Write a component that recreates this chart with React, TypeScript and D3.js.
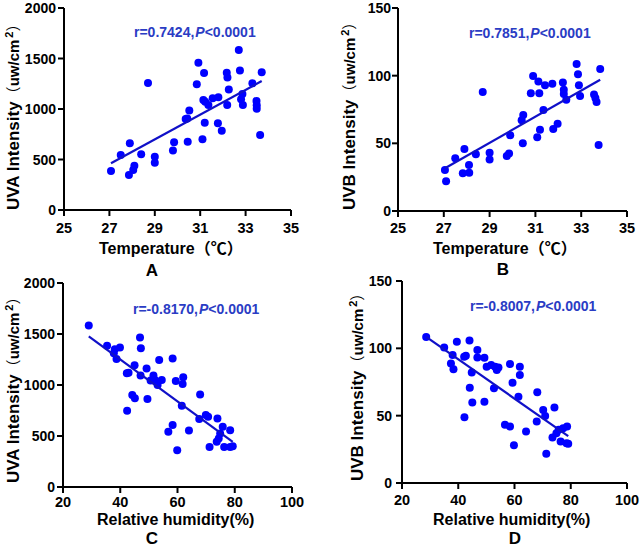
import React from "react";
import * as d3 from "d3";

// ---------- DATA ----------
const tempTicks = [25, 27, 29, 31, 33, 35];
const humTicks = [20, 40, 60, 80, 100];
const uvaTicks = [0, 500, 1000, 1500, 2000];
const uvbTicks = [0, 50, 100, 150];

// Panel A: temperature vs UVA
const tempA = [27.07, 27.5, 27.9, 27.86, 28.05, 28.1, 28.4, 28.7, 29.0, 29.0, 29.8, 29.85, 30.45, 30.36, 30.43, 30.52, 30.85, 30.92, 31.1, 31.17, 31.2, 31.14, 31.22, 31.36, 31.55, 31.8, 31.78, 31.95, 32.17, 32.2, 32.19, 32.26, 32.7, 32.75, 32.8, 32.86, 32.88, 33.3, 33.71, 33.48, 33.49, 33.49, 33.64];
const uvaA = [386, 545, 660, 347, 396, 439, 551, 1258, 528, 468, 590, 672, 676, 900, 905, 985, 1244, 1458, 700, 1356, 864, 1089, 1072, 1040, 1106, 1116, 858, 785, 1360, 1313, 1040, 1192, 1584, 1381, 1096, 1148, 1040, 1254, 1363, 1079, 1037, 1003, 743];

// Panel B: temperature vs UVB
const tempB = [27.05, 27.1, 27.5, 27.9, 27.83, 28.1, 28.11, 28.4, 28.7, 29.0, 29.0, 29.75, 29.85, 29.9, 30.45, 30.4, 30.47, 30.8, 30.9, 31.08, 31.13, 31.17, 31.2, 31.35, 31.42, 31.74, 31.78, 31.97, 32.2, 32.24, 32.24, 32.35, 32.8, 32.86, 32.9, 32.95, 33.83, 33.56, 33.62, 33.67, 33.76];
const uvbB = [30.3, 22, 39, 45.8, 27.9, 34, 28.3, 41.9, 88, 43, 38, 40.6, 42.4, 56, 50, 67, 71, 87, 99.8, 54.5, 95.6, 87, 60, 74.6, 93, 94, 60.6, 64.4, 95, 89.6, 86.4, 82.2, 108.6, 101, 93, 85, 105, 86, 83.5, 80.5, 48.8];

// Panel C: relative humidity vs UVA
const humC = [29, 35.4, 38.1, 39.9, 37.75, 38.7, 42.3, 42.9, 45, 46.9, 47.2, 47.1, 44.2, 45.1, 42.4, 49.2, 49.5, 51.6, 50.6, 52.1, 53.05, 53.6, 54.5, 58.3, 59.4, 62, 61.8, 61.5, 58.3, 56.8, 59.9, 64, 67.9, 67.6, 69.9, 70.7, 71.2, 73.95, 75.8, 74.9, 73.7, 74.4, 76.3, 78.4, 79.3, 78.4];
const uvaC = [1584, 1384, 1351, 1367, 1312, 1256, 1115, 1121, 1193, 1466, 1361, 1092, 902, 869, 748, 1161, 862, 1092, 1043, 1049, 1000, 1246, 1049, 1259, 1039, 1075, 1010, 797, 607, 541, 361, 554, 908, 666, 705, 689, 393, 672, 590, 525, 443, 475, 393, 557, 400, 393];

// Panel D: relative humidity vs UVB
const humD = [28.6, 35, 39.5, 44, 38, 37.4, 38.3, 42.1, 42.7, 44.8, 44.1, 45, 42.2, 46.8, 46.8, 49.3, 50.1, 51.7, 53.1, 53.7, 54.3, 52.7, 49.3, 58.4, 59.3, 61.9, 61.9, 61.4, 56.6, 58.4, 59.8, 64.1, 68.1, 67.9, 70.2, 70.9, 71.3, 74.2, 73.5, 74.9, 75.7, 76.4, 78.7, 79.1, 77.3, 78.5];
const uvbD = [108.5, 100.6, 104.8, 105.8, 95, 88.8, 84.4, 93.7, 94.5, 82.1, 70.8, 59.7, 48.8, 98.7, 93.2, 93, 86.3, 87.6, 86.3, 83.9, 85.8, 70.3, 60.4, 88.3, 74.5, 80.2, 86.3, 64.1, 43.2, 41.9, 28.1, 38.2, 67.3, 45.6, 54.3, 49.8, 21.7, 56, 33.8, 37, 39.5, 30.8, 41.9, 29.1, 40.7, 29.6];

const statsA = { r: "r=0.7424,", p: "<0.0001" };
const statsB = { r: "r=0.7851,", p: "<0.0001" };
const statsC = { r: "r=-0.8170,", p: "<0.0001" };
const statsD = { r: "r=-0.8007,", p: "<0.0001" };

// ---------- STYLE ----------
const FONT = "'Liberation Sans', Arial, 'Noto Sans CJK SC', sans-serif";
const CJK = "'Noto Sans CJK SC', 'Liberation Sans', sans-serif";
const DOT = "#0000ff";
const LINE = "#1010c8";
const TXT = "#2a3cc4";

type PanelProps = {
  xs: number[];
  ys: number[];
  xDomain: [number, number];
  yDomain: [number, number];
  xRange: [number, number];
  yRange: [number, number];
  xTicks: number[];
  yTicks: number[];
  xTickBase: number;
  yLabelGap: number;
  xTitle: string;
  xTitleX: number;
  xTitleY: number;
  yTitleMain: string;
  yTitleX: number;
  yTitleY: number;
  stats: { r: string; p: string };
  statX: number;
  statY: number;
  letter: string;
  letterX: number;
  letterY: number;
};

function fit(xs: number[], ys: number[]) {
  const mx = d3.mean(xs) as number;
  const my = d3.mean(ys) as number;
  let sxy = 0, sxx = 0;
  xs.forEach((x, i) => {
    sxy += (x - mx) * (ys[i] - my);
    sxx += (x - mx) * (x - mx);
  });
  const b = sxy / sxx;
  return { a: my - b * mx, b };
}

function Panel(p: PanelProps) {
  const x = d3.scaleLinear().domain(p.xDomain).range(p.xRange);
  const y = d3.scaleLinear().domain(p.yDomain).range(p.yRange);
  const { a, b } = fit(p.xs, p.ys);
  const [x0, x1] = d3.extent(p.xs) as [number, number];
  const line = d3.line<number>().x((v) => x(v)).y((v) => y(a + b * v));
  const ax = p.xRange[0];
  const by = p.yRange[0];
  return (
    <g fontFamily={FONT}>
      <line x1={ax} x2={ax} y1={p.yRange[1]} y2={by} stroke="#000" strokeWidth={2} />
      <line x1={ax - 1} x2={p.xRange[1]} y1={by} y2={by} stroke="#000" strokeWidth={2} />
      {p.yTicks.map((t) => (
        <g key={"y" + t}>
          <line x1={ax - 6} x2={ax} y1={y(t)} y2={y(t)} stroke="#000" strokeWidth={2} />
          <text x={ax - p.yLabelGap} y={y(t)} dy="0.36em" textAnchor="end" fontSize={14} fontWeight="bold">
            {t}
          </text>
        </g>
      ))}
      {p.xTicks.map((t) => (
        <g key={"x" + t}>
          <line x1={x(t)} x2={x(t)} y1={by} y2={by + 6} stroke="#000" strokeWidth={2} />
          <text x={x(t)} y={p.xTickBase} textAnchor="middle" fontSize={14.5} fontWeight="bold">
            {t}
          </text>
        </g>
      ))}
      {p.xs.map((v, i) => (
        <circle key={i} cx={x(v)} cy={y(p.ys[i])} r={4} fill={DOT} />
      ))}
      <path d={line([x0, x1]) as string} stroke={LINE} strokeWidth={2.2} fill="none" />
      <text x={p.statX} y={p.statY} fill={TXT} fontSize={14} fontWeight="bold">
        {p.stats.r}
        <tspan fontStyle="italic" dx={1}>P</tspan>
        {p.stats.p}
      </text>
      <text x={p.xTitleX} y={p.xTitleY} fontSize={16} fontWeight="bold">
        {p.xTitle}
      </text>
      <text
        transform={`translate(${p.yTitleX},${p.yTitleY}) rotate(-90)`}
        fontSize={17}
        fontWeight="bold"
      >
        {p.yTitleMain}
        <tspan fontFamily={CJK} fontWeight="normal" fontSize={15}>（</tspan>
        <tspan fontSize={15}>uw/cm</tspan>
        <tspan dx={2} dy={-6} fontSize={11}>2</tspan>
        <tspan dy={6} fontFamily={CJK} fontWeight="normal" fontSize={15}>）</tspan>
      </text>
      <text x={p.letterX} y={p.letterY} textAnchor="middle" fontSize={17} fontWeight="bold">
        {p.letter}
      </text>
    </g>
  );
}

export default function App() {
  return (
    <svg width={642} height={548} style={{ position: "absolute", left: 0, top: 0, background: "#fff" }}>
      <rect width={642} height={548} fill="#fff" />
      <Panel
        xs={tempA} ys={uvaA}
        xDomain={[25, 35]} yDomain={[0, 2000]}
        xRange={[64, 291]} yRange={[210, 8]}
        xTicks={tempTicks} yTicks={uvaTicks}
        xTickBase={233} yLabelGap={8}
        xTitle="Temperature（℃）" xTitleX={99} xTitleY={254}
        yTitleMain="UVA Intensity" yTitleX={19} yTitleY={210}
        stats={statsA} statX={134} statY={37}
        letter="A" letterX={152} letterY={276}
      />
      <Panel
        xs={tempB} ys={uvbB}
        xDomain={[25, 35]} yDomain={[0, 150]}
        xRange={[398, 627]} yRange={[211, 8]}
        xTicks={tempTicks} yTicks={uvbTicks}
        xTickBase={233} yLabelGap={7}
        xTitle="Temperature（℃）" xTitleX={433} xTitleY={254}
        yTitleMain="UVB Intensity" yTitleX={355} yTitleY={210}
        stats={statsB} statX={469} statY={38}
        letter="B" letterX={503} letterY={275}
      />
      <Panel
        xs={humC} ys={uvaC}
        xDomain={[20, 100]} yDomain={[0, 2000]}
        xRange={[63, 292]} yRange={[487, 283]}
        xTicks={humTicks} yTicks={uvaTicks}
        xTickBase={507} yLabelGap={8}
        xTitle="Relative humidity(%)" xTitleX={97} xTitleY={525}
        yTitleMain="UVA Intensity" yTitleX={19} yTitleY={483}
        stats={statsC} statX={133} statY={314}
        letter="C" letterX={152} letterY={544.3}
      />
      <Panel
        xs={humD} ys={uvbD}
        xDomain={[20, 100]} yDomain={[0, 150]}
        xRange={[402, 627]} yRange={[483, 281]}
        xTicks={humTicks} yTicks={uvbTicks}
        xTickBase={505} yLabelGap={10}
        xTitle="Relative humidity(%)" xTitleX={433} xTitleY={525}
        yTitleMain="UVB Intensity" yTitleX={363} yTitleY={481}
        stats={statsD} statX={470} statY={311}
        letter="D" letterX={515} letterY={544.3}
      />
    </svg>
  );
}
